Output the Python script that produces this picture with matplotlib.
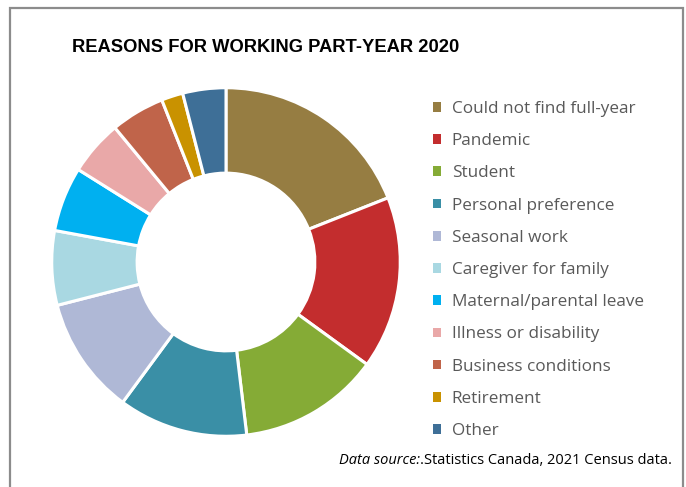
import matplotlib
matplotlib.use("Agg")
import matplotlib.pyplot as plt
from matplotlib.patches import Rectangle, Patch

categories = [
    "Could not find full-year", "Pandemic", "Student", "Personal preference",
    "Seasonal work", "Caregiver for family", "Maternal/parental leave",
    "Illness or disability", "Business conditions", "Retirement", "Other",
]
shares = [19.0, 16.0, 13.1, 12.0, 10.9, 6.9, 6.0, 5.1, 5.0, 2.0, 4.0]
colors = ["#967D42", "#C32D2E", "#85AB36", "#3A8FA6", "#AFB8D6", "#A9D8E2",
          "#00B0F0", "#E9A8A8", "#C0644A", "#C99200", "#3E6F97"]

W, H = 686, 487
fig = plt.figure(figsize=(W / 100, H / 100), dpi=100)

# outer frame
fig.patches.append(Rectangle((10 / W, -0.05), 673 / W, (H - 8) / H + 0.05,
                             transform=fig.transFigure, fill=False,
                             edgecolor="#8C8C8C", linewidth=1.6))

cx, cy, r = 226, 262, 176
ax = fig.add_axes([(cx - r) / W, (H - cy - r) / H, 2 * r / W, 2 * r / H])
ax.pie(shares, colors=colors, startangle=90, counterclock=False, radius=1,
       wedgeprops=dict(width=0.49, edgecolor="white", linewidth=2.2))
ax.set_xlim(-1.01, 1.01)
ax.set_ylim(-1.01, 1.01)
ax.set_aspect("equal")
ax.axis("off")

fig.text(266 / W, 1 - 48 / H, "REASONS FOR WORKING PART-YEAR 2020",
         ha="center", va="center", fontsize=13.2, fontweight="bold",
         family="Liberation Sans", color="black")

handles = [Patch(facecolor=c, edgecolor="none") for c in colors]
leg = fig.legend(handles, categories, loc="upper left",
                 bbox_to_anchor=(426 / W, 1 - 94 / H), frameon=False,
                 prop=dict(family="Open Sans", size=12.3),
                 labelcolor="#595959", handlelength=0.5, handleheight=0.5,
                 handletextpad=0.6, labelspacing=0.95, borderaxespad=0)

t1 = fig.text(339 / W, 1 - 461 / H, "Data source:", ha="left", va="center",
              fontsize=10.5, style="italic", family="Open Sans", color="black")
fig.canvas.draw()
bb = t1.get_window_extent()
fig.text(bb.x1 / W, 1 - 461 / H, ".Statistics Canada, 2021 Census data.",
         ha="left", va="center", fontsize=10.5, family="Open Sans", color="black")

fig.savefig("out.png", dpi=100)
